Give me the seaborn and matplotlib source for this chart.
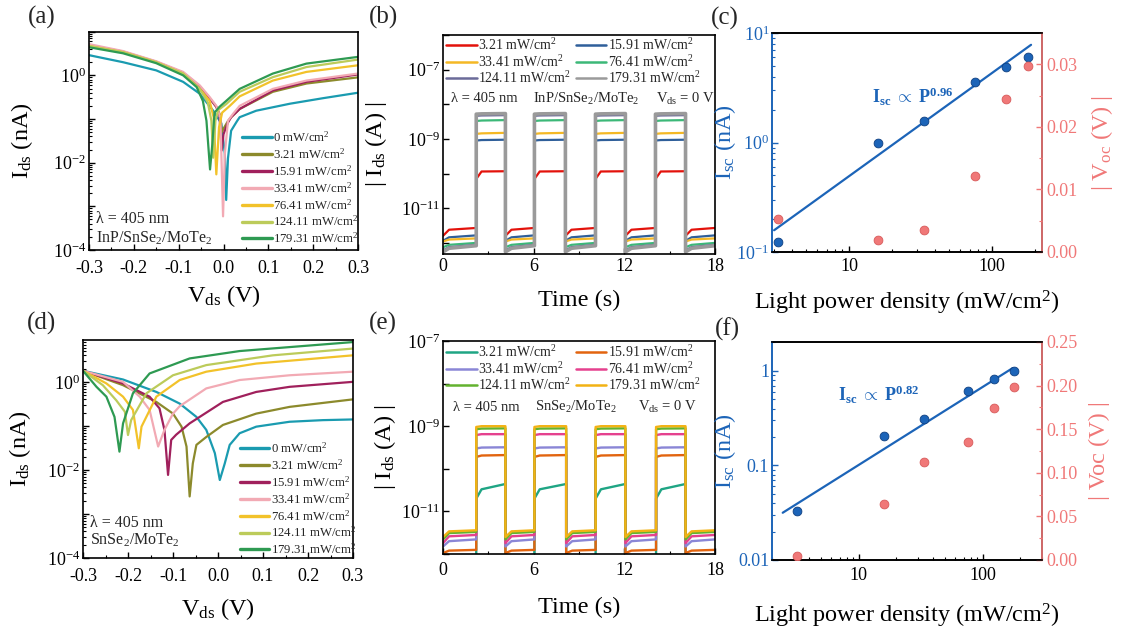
import numpy as np
import pandas as pd
import matplotlib
matplotlib.use("Agg")
import matplotlib.pyplot as plt
import seaborn as sns
from matplotlib.ticker import LogLocator, FuncFormatter, NullFormatter, MultipleLocator, FixedLocator

# ---------------- data ----------------
iv_labels = ["0 mW/cm$^2$", "3.21 mW/cm$^2$", "15.91 mW/cm$^2$", "33.41 mW/cm$^2$",
             "76.41 mW/cm$^2$", "124.11 mW/cm$^2$", "179.31 mW/cm$^2$"]
iv_colors = ["#1a9bb0", "#8c8a2c", "#a0205c", "#f2aab4", "#f2c22a", "#bccb5a", "#2e9a52"]

# (a) InP/SnSe2/MoTe2  I-V curves (nA)
a_V0 = [-0.3, -0.224, -0.15, -0.09, -0.053, -0.023, -0.005, 0.003, 0.006, 0.010, 0.017, 0.030, 0.036, 0.073, 0.148, 0.222, 0.3]
a_I0 = [2.9, 2.0, 1.3, 0.71, 0.38, 0.155, 0.08, 0.016, 1.4e-3, 0.0126, 0.054, 0.089, 0.11, 0.155, 0.224, 0.30, 0.40]
a_V1 = [-0.3, -0.224, -0.15, -0.09, -0.053, -0.031, -0.016, -0.007, -0.004, 0.0, 0.01, 0.017, 0.036, 0.11, 0.185, 0.3]
a_I1 = [4.8, 3.4, 2.0, 1.12, 0.55, 0.3, 0.19, 0.12, 0.05, 0.06, 0.09, 0.11, 0.17, 0.42, 0.65, 0.9]
a_V2 = [-0.3, -0.224, -0.15, -0.09, -0.053, -0.031, -0.016, -0.009, -0.004, 0.0, 0.01, 0.017, 0.036, 0.11, 0.185, 0.3]
a_I2 = [4.9, 3.5, 2.05, 1.15, 0.56, 0.3, 0.19, 0.12, 0.019, 0.045, 0.083, 0.11, 0.17, 0.45, 0.71, 1.05]
a_V3 = [-0.3, -0.224, -0.15, -0.09, -0.053, -0.031, -0.016, -0.007, -0.001, 0.003, 0.01, 0.021, 0.036, 0.11, 0.185, 0.3]
a_I3 = [5.2, 3.6, 2.1, 1.2, 0.59, 0.32, 0.2, 0.11, 5.9e-4, 0.016, 0.091, 0.13, 0.2, 0.49, 0.76, 1.1]
a_V4 = [-0.3, -0.224, -0.15, -0.09, -0.053, -0.031, -0.022, -0.016, -0.01, -0.003, 0.014, 0.036, 0.11, 0.185, 0.3]
a_I4 = [4.7, 3.4, 2.0, 1.1, 0.49, 0.26, 0.11, 5.4e-3, 0.065, 0.14, 0.2, 0.33, 0.76, 1.2, 1.7]
a_V5 = [-0.3, -0.224, -0.15, -0.09, -0.053, -0.035, -0.027, -0.023, -0.018, -0.012, 0.006, 0.036, 0.11, 0.185, 0.3]
a_I5 = [4.7, 3.4, 2.0, 1.1, 0.49, 0.24, 0.091, 0.013, 0.091, 0.16, 0.22, 0.42, 0.91, 1.55, 2.3]
a_V6 = [-0.3, -0.224, -0.15, -0.09, -0.06, -0.046, -0.038, -0.03, -0.025, -0.02, -0.009, 0.006, 0.036, 0.11, 0.185, 0.3]
a_I6 = [4.4, 3.2, 1.9, 1.0, 0.54, 0.26, 0.091, 7e-3, 0.026, 0.14, 0.19, 0.26, 0.49, 1.1, 1.86, 2.65]

# (d) SnSe2/MoTe2  I-V curves (nA)
d_V0 = [-0.3, -0.211, -0.137, -0.085, -0.048, -0.026, -0.007, 0.004, 0.015, 0.026, 0.048, 0.085, 0.159, 0.233, 0.3]
d_I0 = [1.78, 1.13, 0.59, 0.32, 0.16, 0.081, 0.024, 5.9e-3, 0.014, 0.037, 0.068, 0.096, 0.124, 0.135, 0.14]
d_V1 = [-0.3, -0.211, -0.137, -0.1, -0.081, -0.07, -0.063, -0.056, -0.048, -0.026, 0.011, 0.085, 0.159, 0.3]
d_I1 = [1.78, 0.84, 0.35, 0.19, 0.096, 0.034, 2.5e-3, 0.014, 0.037, 0.056, 0.105, 0.19, 0.27, 0.40]
d_V2 = [-0.3, -0.211, -0.152, -0.13, -0.119, -0.111, -0.104, -0.093, -0.063, 0.011, 0.085, 0.159, 0.3]
d_I2 = [1.78, 0.92, 0.46, 0.25, 0.081, 7.7e-3, 0.048, 0.063, 0.114, 0.35, 0.59, 0.77, 1.0]
d_V3 = [-0.3, -0.211, -0.174, -0.152, -0.133, -0.119, -0.1, -0.085, -0.026, 0.048, 0.159, 0.3]
d_I3 = [1.78, 1.0, 0.46, 0.23, 0.034, 0.081, 0.19, 0.28, 0.71, 1.1, 1.41, 1.7]
d_V4 = [-0.3, -0.248, -0.211, -0.189, -0.176, -0.17, -0.137, -0.085, -0.026, 0.085, 0.3]
d_I4 = [1.78, 0.92, 0.46, 0.23, 0.031, 0.096, 0.46, 1.1, 1.7, 2.6, 4.0]
d_V5 = [-0.3, -0.256, -0.226, -0.207, -0.2, -0.193, -0.159, -0.1, -0.026, 0.122, 0.3]
d_I5 = [1.78, 0.84, 0.38, 0.21, 0.062, 0.135, 0.55, 1.41, 2.4, 4.0, 5.7]
d_V6 = [-0.3, -0.27, -0.248, -0.23, -0.219, -0.211, -0.189, -0.152, -0.063, 0.048, 0.3]
d_I6 = [1.78, 0.77, 0.46, 0.16, 0.026, 0.114, 0.55, 1.55, 3.4, 5.0, 8.0]

# (b) transient, InP/SnSe2/MoTe2 (A)
tr_labels = ["3.21 mW/cm$^2$", "15.91 mW/cm$^2$", "33.41 mW/cm$^2$",
             "76.41 mW/cm$^2$", "124.11 mW/cm$^2$", "179.31 mW/cm$^2$"]
b_colors = ["#e3120b", "#2f5f9a", "#f4b825", "#3cb878", "#6b6b99", "#9a9a9a"]
b_t_on = [2.2, 6.05, 10.09, 14.06]
b_t_off = [4.13, 8.1, 12.07, 16.05]
b_off_lo = [1.6e-12, 1.15e-12, 1.1e-12, 7.5e-13, 6.0e-13, 5.5e-13]
b_off_mid = [2.4e-12, 1.45e-12, 1.25e-12, 8.8e-13, 7.5e-13, 7.0e-13]
b_off_hi = [2.7e-12, 1.65e-12, 1.35e-12, 1.0e-12, 8.8e-13, 8.3e-13]
b_on_lo = [7.0e-11, 9.0e-10, 1.4e-9, 3.3e-9, 4.7e-9, 5.2e-9]
b_on_mid = [1.15e-10, 9.3e-10, 1.45e-9, 3.4e-9, 4.8e-9, 5.3e-9]
b_on_hi = [1.17e-10, 9.5e-10, 1.5e-9, 3.5e-9, 4.9e-9, 5.4e-9]

# (e) transient, SnSe2/MoTe2 (A)
e_colors = ["#1fa584", "#e2640f", "#8a86d6", "#e5418e", "#63b22f", "#f2b214"]
e_t_on = [2.2, 6.05, 10.1, 14.1]
e_t_off = [4.13, 8.15, 12.07, 16.05]
e_off_lo = [7.0e-13, 1.05e-12, 1.5e-12, 1.8e-12, 2.2e-12, 2.5e-12]
e_off_mid = [8.8e-13, 1.2e-12, 2.0e-12, 2.6e-12, 3.1e-12, 3.4e-12]
e_off_hi = [9.5e-13, 1.25e-12, 2.2e-12, 2.8e-12, 3.3e-12, 3.6e-12]
e_on_lo = [2.0e-11, 1.9e-10, 3.0e-10, 6.2e-10, 8.5e-10, 9.6e-10]
e_on_mid = [3.3e-11, 2.05e-10, 3.15e-10, 6.5e-10, 8.8e-10, 1.0e-9]
e_on_hi = [4.4e-11, 2.1e-10, 3.2e-10, 6.5e-10, 8.9e-10, 1.0e-9]

# (c) / (f) power dependence
P = [3.21, 15.91, 33.41, 76.41, 124.11, 179.31]
c_Isc = [0.123, 0.99, 1.57, 3.57, 4.9, 6.0]
c_Voc = [0.0053, 0.0019, 0.0035, 0.0122, 0.0245, 0.0297]
c_fit_P = [3.0, 187.0]
c_fit_I = [0.158, 7.8]
f_Isc = [0.033, 0.206, 0.31, 0.62, 0.82, 1.0]
f_Voc = [0.005, 0.064, 0.112, 0.135, 0.174, 0.198]
f_fit_P = [2.44, 174.0]
f_fit_I = [0.0316, 1.07]

BLUE = "#1c64b8"
SALMON = "#f07878"

# ---------------- style ----------------
sns.set_theme(style="ticks")
plt.rcParams["font.family"] = ["Liberation Serif", "DejaVu Serif"]
plt.rcParams.update({
    "mathtext.fontset": "custom",
    "mathtext.rm": "Liberation Serif",
    "mathtext.it": "Liberation Serif",
    "mathtext.bf": "Liberation Serif:bold",
    "axes.unicode_minus": False,
    "xtick.direction": "in",
    "ytick.direction": "in",
    "axes.linewidth": 1.2,
    "axes.edgecolor": "black",
    "xtick.color": "black",
    "ytick.color": "black",
    "axes.labelcolor": "black",
})

W, H = 1121, 631
fig = plt.figure(figsize=(W / 100, H / 100), dpi=100)


def box(l, r, t, b):
    return [l / W, 1 - b / H, (r - l) / W, (b - t) / H]


TICK = 13
LAB = 17.5


def style_ticks(ax, xpad):
    ax.tick_params(axis="both", which="major", length=4, width=1.0, labelsize=TICK)
    ax.tick_params(axis="x", which="major", pad=xpad)
    ax.tick_params(axis="y", which="major", pad=2)
    ax.tick_params(axis="both", which="minor", length=2, width=0.8)


def even_pow(v, p):
    e = int(round(np.log10(v)))
    return r"$10^{%d}$" % e if e % 2 == 0 else ""


def odd_pow(v, p):
    e = int(round(np.log10(v)))
    return r"$10^{%d}$" % e if e % 2 != 0 else ""


def iv_panel(rect, Vs, Is, ylim, txt2, leg_anchor, ylab_x, xlab_y, xpad):
    ax = fig.add_axes(rect)
    for V, I, c, lab in zip(Vs, Is, iv_colors, iv_labels):
        sns.lineplot(x=V, y=I, ax=ax, color=c, lw=1.6, label=lab, estimator=None, sort=False)
    ax.set_yscale("log")
    ax.set_ylim(*ylim)
    ax.set_xlim(-0.3, 0.3)
    ax.xaxis.set_major_locator(MultipleLocator(0.1))
    ax.xaxis.set_minor_locator(MultipleLocator(0.05))
    ax.xaxis.set_major_formatter(FuncFormatter(lambda v, p: "%.1f" % v if abs(v) > 1e-9 else "0.0"))
    ax.yaxis.set_major_locator(LogLocator(base=10, numticks=20))
    ax.yaxis.set_major_formatter(FuncFormatter(even_pow))
    ax.yaxis.set_minor_locator(LogLocator(base=10, subs=np.arange(2, 10), numticks=20))
    ax.yaxis.set_minor_formatter(NullFormatter())
    style_ticks(ax, xpad)
    ax.set_xlabel("V$_{ds}$ (V)", fontsize=LAB)
    ax.set_ylabel("I$_{ds}$ (nA)", fontsize=LAB)
    ax.xaxis.set_label_coords(0.5, xlab_y)
    ax.yaxis.set_label_coords(ylab_x, 0.5)
    leg = ax.legend(loc="upper left", bbox_to_anchor=leg_anchor, frameon=False, fontsize=9.2,
                    handlelength=2.3, handletextpad=0.12, labelspacing=0.18, borderpad=0, borderaxespad=0)
    for l in leg.get_lines():
        l.set_linewidth(2.4)
    ax.text(0.025, txt2[0], "λ = 405 nm", transform=ax.transAxes, fontsize=11.5, va="center")
    ax.text(0.025, txt2[1], txt2[2], transform=ax.transAxes, fontsize=11.5, va="center")
    return ax


def square(t_on, t_off, t_end, olo, omid, ohi, nlo, nmid, nhi):
    t = [0.0, 0.4, t_on[0]]
    y = [olo, omid, ohi]
    for k in range(len(t_on)):
        t += [t_on[k], t_on[k] + 0.35, t_off[k]]
        y += [nlo, nmid, nhi]
        nxt = t_on[k + 1] if k + 1 < len(t_on) else t_end
        t += [t_off[k], t_off[k] + 0.4, nxt]
        y += [olo, omid, ohi]
    return t, y


def tr_panel(rect, colors, t_on, t_off, olo, omid, ohi, nlo, nmid, nhi, ylim, lws, txts, txt_y,
             ylab_x, xlab_y, leg_y, xpad):
    ax = fig.add_axes(rect)
    for i, (c, lab) in enumerate(zip(colors, tr_labels)):
        t, y = square(t_on, t_off, 18.0, olo[i], omid[i], ohi[i], nlo[i], nmid[i], nhi[i])
        sns.lineplot(x=t, y=y, ax=ax, color=c, lw=lws[i], label=lab, estimator=None, sort=False)
    ax.set_yscale("log")
    ax.set_ylim(*ylim)
    ax.set_xlim(0, 18)
    ax.xaxis.set_major_locator(FixedLocator([0, 6, 12, 18]))
    ax.xaxis.set_minor_locator(FixedLocator([3, 9, 15]))
    ax.yaxis.set_major_locator(LogLocator(base=10, numticks=20))
    ax.yaxis.set_major_formatter(FuncFormatter(odd_pow))
    ax.yaxis.set_minor_locator(FixedLocator([]))
    style_ticks(ax, xpad)
    ax.set_xlabel("Time (s)", fontsize=LAB)
    ax.set_ylabel("| I$_{ds}$ (A) |", fontsize=LAB)
    ax.xaxis.set_label_coords(0.5, xlab_y)
    ax.yaxis.set_label_coords(ylab_x, 0.5)
    handles, labels = ax.get_legend_handles_labels()
    order = [0, 2, 4, 1, 3, 5]   # fill the two legend columns row by row
    leg = ax.legend([handles[k] for k in order], [labels[k] for k in order],
                    loc="upper left", bbox_to_anchor=(0.012, leg_y), ncol=2, frameon=False, fontsize=10,
                    handlelength=2.2, handletextpad=0.1, labelspacing=0.05, columnspacing=0.35,
                    borderpad=0, borderaxespad=0)
    for l in leg.get_lines():
        l.set_linewidth(1.8)
    for (x, s) in txts:
        ax.text(x, txt_y, s, transform=ax.transAxes, fontsize=10.5, va="center")
    return ax


def pw_panel(rect, Isc, Voc, fitP, fitI, xlim, ylim, y2lim, y2step, ann, ann_xy, left_fmt, y2lab, xlab_y, xpad):
    ax = fig.add_axes(rect)
    sns.lineplot(x=fitP, y=fitI, ax=ax, color=BLUE, lw=1.6, estimator=None, sort=False)
    sns.scatterplot(x=P, y=Isc, ax=ax, color=BLUE, s=40, edgecolor="#0e3f80", linewidth=0.6, zorder=5)
    ax.set_xscale("log")
    ax.set_yscale("log")
    ax.set_xlim(*xlim)
    ax.set_ylim(*ylim)
    ax.xaxis.set_major_locator(FixedLocator([10, 100]))
    ax.xaxis.set_major_formatter(FuncFormatter(lambda v, p: "%d" % v))
    ax.xaxis.set_minor_locator(LogLocator(base=10, subs=np.arange(2, 10), numticks=20))
    ax.xaxis.set_minor_formatter(NullFormatter())
    ax.yaxis.set_major_locator(LogLocator(base=10, numticks=20))
    ax.yaxis.set_major_formatter(FuncFormatter(left_fmt))
    ax.yaxis.set_minor_locator(LogLocator(base=10, subs=np.arange(2, 10), numticks=20))
    ax.yaxis.set_minor_formatter(NullFormatter())
    style_ticks(ax, xpad)
    ax.tick_params(axis="y", which="both", colors=BLUE)
    ax.spines["left"].set_color(BLUE)
    ax.set_xlabel("Light power density (mW/cm$^2$)", fontsize=LAB)
    ax.set_ylabel("I$_{sc}$ (nA)", fontsize=LAB, color=BLUE)
    ax.xaxis.set_label_coords(0.5, xlab_y)
    ax.yaxis.set_label_coords(-0.125, 0.5)
    ax.text(ann_xy[0], ann_xy[1], ann, transform=ax.transAxes, fontsize=13, color=BLUE,
            fontweight="bold", va="center")

    ax2 = ax.twinx()
    sns.scatterplot(x=P, y=Voc, ax=ax2, color=SALMON, s=40, edgecolor="#d85a5a", linewidth=0.6, zorder=5)
    ax2.set_ylim(*y2lim)
    ax2.yaxis.set_major_locator(MultipleLocator(y2step))
    ax2.yaxis.set_major_formatter(FuncFormatter(lambda v, p: "%.2f" % v))
    ax2.yaxis.set_minor_locator(MultipleLocator(y2step / 2))
    ax2.tick_params(axis="y", which="major", length=4, width=1.0, labelsize=TICK, colors=SALMON,
                    direction="in", pad=3)
    ax2.tick_params(axis="y", which="minor", length=2, width=0.8, colors=SALMON, direction="in")
    ax2.spines["right"].set_color(SALMON)
    ax2.spines["left"].set_color(BLUE)
    ax2.set_ylabel(y2lab, fontsize=LAB, color=SALMON)
    ax2.yaxis.set_label_coords(1.175, 0.5)
    return ax, ax2


# ---- (a)
iv_panel(box(89, 358, 31.7, 250),
         [a_V0, a_V1, a_V2, a_V3, a_V4, a_V5, a_V6],
         [a_I0, a_I1, a_I2, a_I3, a_I4, a_I5, a_I6],
         (1e-4, 1e1), (0.142, 0.055, "InP/SnSe$_2$/MoTe$_2$"), (0.57, 0.55), -0.2, -0.15, 7.5)

# ---- (d)
iv_panel(box(83, 353, 340, 558),
         [d_V0, d_V1, d_V2, d_V3, d_V4, d_V5, d_V6],
         [d_I0, d_I1, d_I2, d_I3, d_I4, d_I5, d_I6],
         (1e-4, 10 ** 0.95), (0.16, 0.083, "SnSe$_2$/MoTe$_2$"), (0.58, 0.537), -0.185, -0.175, 7)

# ---- (b)
tr_panel(box(443, 715, 35, 254), b_colors, b_t_on, b_t_off, b_off_lo, b_off_mid, b_off_hi,
         b_on_lo, b_on_mid, b_on_hi, (10 ** -12.32, 1e-6), [1.6, 1.6, 1.6, 1.6, 1.8, 2.6],
         [(0.03, "λ = 405 nm"), (0.332, "InP/SnSe$_2$/MoTe$_2$"), (0.782, "V$_{ds}$ = 0 V")],
         0.708, -0.2, -0.165, 0.99, 3)

# ---- (e)
tr_panel(box(443, 715, 341, 554), e_colors, e_t_on, e_t_off, e_off_lo, e_off_mid, e_off_hi,
         e_on_lo, e_on_mid, e_on_hi, (1e-12, 1e-7), [1.7] * 6,
         [(0.037, "λ = 405 nm"), (0.339, "SnSe$_2$/MoTe$_2$"), (0.716, "V$_{ds}$ = 0 V")],
         0.69, -0.166, -0.2, 0.985, 6)

# ---- (c)
pw_panel(box(772, 1042, 33, 252), c_Isc, c_Voc, c_fit_P, c_fit_I, (2.9, 223), (0.1, 10),
         (0, 0.035), 0.01, r"I$_{\mathbf{sc}}$ $\propto$ P$^{\mathbf{0.96}}$", (0.37, 0.71),
         lambda v, p: r"$10^{%d}$" % int(round(np.log10(v))), "| V$_{oc}$ (V) |", -0.17, 4)

# ---- (f)
def f_fmt(v, p):
    e = int(round(np.log10(v)))
    return {0: "1", -1: "0.1", -2: "0.01"}.get(e, "")

pw_panel(box(772, 1042, 342, 560), f_Isc, f_Voc, f_fit_P, f_fit_I, (2, 300), (0.01, 2.02),
         (0, 0.25), 0.05, r"I$_{\mathbf{sc}}$ $\propto$ P$^{\mathbf{0.82}}$", (0.244, 0.757), f_fmt,
         "| Voc (V) |", -0.19, 5)

# panel letters
for (x, y, s) in [(42, 17, "(a)"), (383, 17, "(b)"), (725, 18, "(c)"),
                  (42, 323, "(d)"), (383, 323, "(e)"), (727, 329, "(f)")]:
    fig.text(x / W, 1 - y / H, s, ha="center", va="center", fontsize=18)

fig.savefig("out.png", dpi=100)
